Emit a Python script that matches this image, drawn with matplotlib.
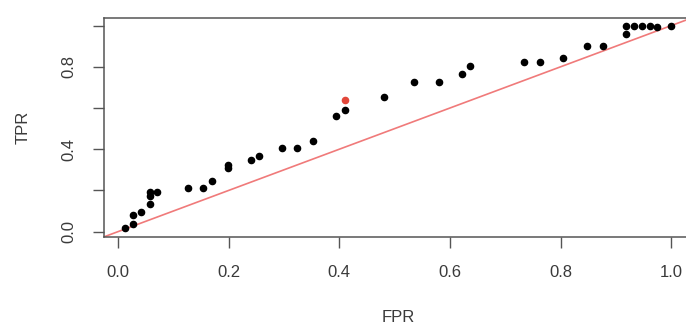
import matplotlib.pyplot as plt

# ROC points (FPR, TPR)
fpr = [0.013, 0.028, 0.028, 0.041, 0.057, 0.057, 0.057, 0.070, 0.126, 0.154,
       0.170, 0.198, 0.198, 0.240, 0.255, 0.296, 0.324, 0.353, 0.394, 0.410,
       0.480, 0.536, 0.580, 0.621, 0.637, 0.734, 0.763, 0.804, 0.847, 0.876,
       0.918, 0.918, 0.933, 0.947, 0.961, 0.974, 1.000]
tpr = [0.018, 0.039, 0.079, 0.097, 0.134, 0.171, 0.194, 0.194, 0.211, 0.211,
       0.248, 0.309, 0.325, 0.346, 0.366, 0.405, 0.405, 0.442, 0.560, 0.592,
       0.652, 0.728, 0.728, 0.767, 0.802, 0.825, 0.825, 0.842, 0.902, 0.902,
       0.960, 0.996, 0.996, 0.996, 0.996, 0.993, 0.996]

# highlighted (best cutoff) point
best_fpr = [0.410]
best_tpr = [0.637]

x_ticks = [0.0, 0.2, 0.4, 0.6, 0.8, 1.0]
y_ticks = [0.0, 0.2, 0.4, 0.6, 0.8, 1.0]
y_tick_labels = ['0.0', '', '0.4', '', '0.8', '']

plt.rcParams['font.family'] = ['Liberation Sans', 'DejaVu Sans']
text_col = '#3a3a3a'

fig = plt.figure(figsize=(6.86, 3.29), dpi=100)
ax = fig.add_axes([104 / 686, 92 / 329, 589 / 686, 219 / 329])

ax.axline((0, 0), (1, 1), color='#f07a7a', lw=1.2, zorder=1)
ax.scatter(fpr, tpr, s=20, color='black', zorder=3)
ax.scatter(best_fpr, best_tpr, s=20, color='#e2473a', zorder=3)

ax.set_xlim(-0.0253, 1.0395)
ax.set_ylim(-0.026, 1.037)

ax.set_xticks(x_ticks)
ax.set_xticklabels(['%.1f' % v for v in x_ticks])
ax.set_yticks(y_ticks)
ax.set_yticklabels(y_tick_labels)
plt.setp(ax.get_yticklabels(), rotation=90, va='center')

ax.tick_params(length=8, width=1, color='#555555', labelcolor=text_col,
               labelsize=12, pad=12)
for s in ax.spines.values():
    s.set_color('#555555')
    s.set_linewidth(1.1)

ax.set_xlabel('FPR', fontsize=12, color=text_col, labelpad=22)
ax.set_ylabel('TPR', fontsize=12, color=text_col, labelpad=22)

fig.savefig('out.png', dpi=100)
